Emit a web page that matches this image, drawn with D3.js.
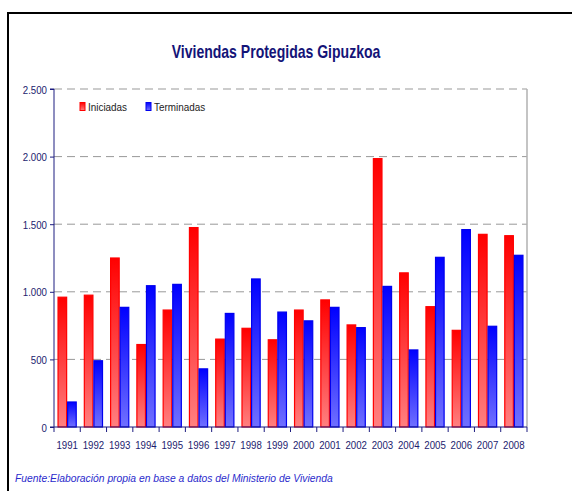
<!DOCTYPE html>
<html>
<head>
<meta charset="utf-8">
<script src="https://cdnjs.cloudflare.com/ajax/libs/d3/7.8.5/d3.min.js"></script>
<style>
  body { margin: 0; background: #fff; }
  svg text { font-family: "Liberation Sans", Arial, sans-serif; }
  .axis path, .axis line { stroke: #1c1c80; }
  .axis text { fill: #1c1c6e; font-size: 11px; }
</style>
</head>
<body>
<div class="g-chart"></div>
<script>
//Local data
var years = ["1991","1992","1993","1994","1995","1996","1997","1998","1999","2000",
             "2001","2002","2003","2004","2005","2006","2007","2008"];
var iniciadas  = [960, 975, 1250, 610, 865, 1475, 650, 730, 645, 865, 940, 755, 1985, 1140, 890, 715, 1425, 1415];
var terminadas = [185, 490, 885, 1045, 1055, 430, 840, 1095, 850, 785, 885, 735, 1040, 570, 1255, 1460, 745, 1270];
var yTicks = [0, 500, 1000, 1500, 2000, 2500];
var seriesNames = ["Iniciadas", "Terminadas"];

//Margin conventions
var margin = {top: 89, right: 45, bottom: 64, left: 54};
var width = 572 - margin.left - margin.right,
    height = 491 - margin.top - margin.bottom;

//Narrow text helper (no condensed font installed)
function narrow(x, y, sx) {
  return "translate(" + x + "," + y + ") scale(" + sx + ",1)";
}

var svg0 = d3.select(".g-chart").append("svg")
  .attr("width", 572)
  .attr("height", 491);

//Gradients
var defs = svg0.append("defs");
function grad(id, top, bottom) {
  var g = defs.append("linearGradient").attr("id", id)
    .attr("x1", 0).attr("y1", 0).attr("x2", 0).attr("y2", 1);
  g.append("stop").attr("offset", "0%").attr("stop-color", top);
  g.append("stop").attr("offset", "100%").attr("stop-color", bottom);
}
grad("gRed", "#ff0000", "#ff8080");
grad("gBlue", "#0000ff", "#7070ff");
var fills = ["url(#gRed)", "url(#gBlue)"];
var strokes = ["#ff0000", "#0000ee"];

//Outer frame
svg0.append("rect")
  .attr("x", 8).attr("y", 13)
  .attr("width", 600).attr("height", 600)
  .attr("fill", "none")
  .attr("stroke", "#000")
  .attr("stroke-width", 2);

//Title
svg0.append("text")
  .attr("transform", narrow(276, 58, 0.78))
  .attr("text-anchor", "middle")
  .style("font-size", "18px")
  .style("font-weight", "bold")
  .style("fill", "#141478")
  .text("Viviendas Protegidas Gipuzkoa");

var svg = svg0.append("g")
  .attr("transform", "translate(" + margin.left + "," + margin.top + ")");

//Scales
var x0 = d3.scaleBand().domain(years).range([0, width]).paddingInner(0.27).paddingOuter(0.135);
var x1 = d3.scaleBand().domain([0, 1]).range([0, x0.bandwidth()]);
var yScale = d3.scaleLinear().domain([0, 2500]).range([height, 0]);
var xEdge = d3.scaleLinear().domain([0, years.length]).range([0, width]);

//Gridlines
svg.selectAll(".grid")
  .data(yTicks.filter(function(d) { return d > 0; }))
  .enter().append("line")
  .attr("x1", 0).attr("x2", width)
  .attr("y1", function(d) { return yScale(d); })
  .attr("y2", function(d) { return yScale(d); })
  .attr("stroke", "#999")
  .attr("stroke-dasharray", "8,5");

//Right frame
svg.append("line")
  .attr("x1", width).attr("x2", width)
  .attr("y1", 0).attr("y2", height)
  .attr("stroke", "#b0b0b0")
  .attr("stroke-width", 1.5);

//Bars
var groups = svg.selectAll(".g-year")
  .data(years)
  .enter().append("g")
  .attr("transform", function(d) { return "translate(" + x0(d) + ",0)"; });

[iniciadas, terminadas].forEach(function(vals, s) {
  groups.append("rect")
    .attr("x", x1(s) + 0.5)
    .attr("y", function(d, i) { return yScale(vals[i]); })
    .attr("width", x1.bandwidth() - 1)
    .attr("height", function(d, i) { return height - yScale(vals[i]); })
    .attr("fill", fills[s])
    .attr("stroke", strokes[s])
    .attr("stroke-width", 1.2);
});

//Y axis
var yAxis = d3.axisLeft(yScale)
  .tickValues(yTicks)
  .tickSize(4)
  .tickPadding(3)
  .tickFormat(function(d) { return d3.format(",")(d).replace(",", "."); });
var yAxisG = svg.append("g").attr("class", "axis").call(yAxis);
yAxisG.select(".domain").attr("d", "M-4,0H0V" + height + "H-4");
yAxisG.selectAll(".tick text")
  .attr("x", null).attr("dy", null)
  .attr("transform", narrow(-7, 4, 0.88));

//X axis
var xAxisG = svg.append("g").attr("class", "axis")
  .attr("transform", "translate(0," + height + ")");
xAxisG.append("line").attr("x1", 0).attr("x2", width).attr("y1", 0).attr("y2", 0);
xAxisG.selectAll(".tk")
  .data(d3.range(years.length + 1))
  .enter().append("line")
  .attr("x1", function(d) { return xEdge(d); })
  .attr("x2", function(d) { return xEdge(d); })
  .attr("y1", 0).attr("y2", 5);
xAxisG.selectAll(".lbl")
  .data(years)
  .enter().append("text")
  .attr("transform", function(d) { return narrow(x0(d) + x0.bandwidth() / 2, 22, 0.88); })
  .attr("text-anchor", "middle")
  .text(function(d) { return d; });

//Legend
var legend = svg0.append("g").attr("transform", "translate(80,102)");
var lx = [0, 66];
seriesNames.forEach(function(name, s) {
  legend.append("rect")
    .attr("x", lx[s]).attr("y", 0.5)
    .attr("width", 5).attr("height", 8)
    .attr("fill", fills[s])
    .attr("stroke", strokes[s]);
  legend.append("text")
    .attr("transform", narrow(lx[s] + 8, 9, 0.9))
    .style("font-size", "11px")
    .style("fill", "#222")
    .text(name);
});

//Source
svg0.append("text")
  .attr("transform", narrow(15, 482, 0.94))
  .style("font-size", "11px")
  .style("font-style", "italic")
  .style("fill", "#2a2acc")
  .text("Fuente:Elaboración propia en base a datos del Ministerio de Vivienda");
</script>
</body>
</html>
